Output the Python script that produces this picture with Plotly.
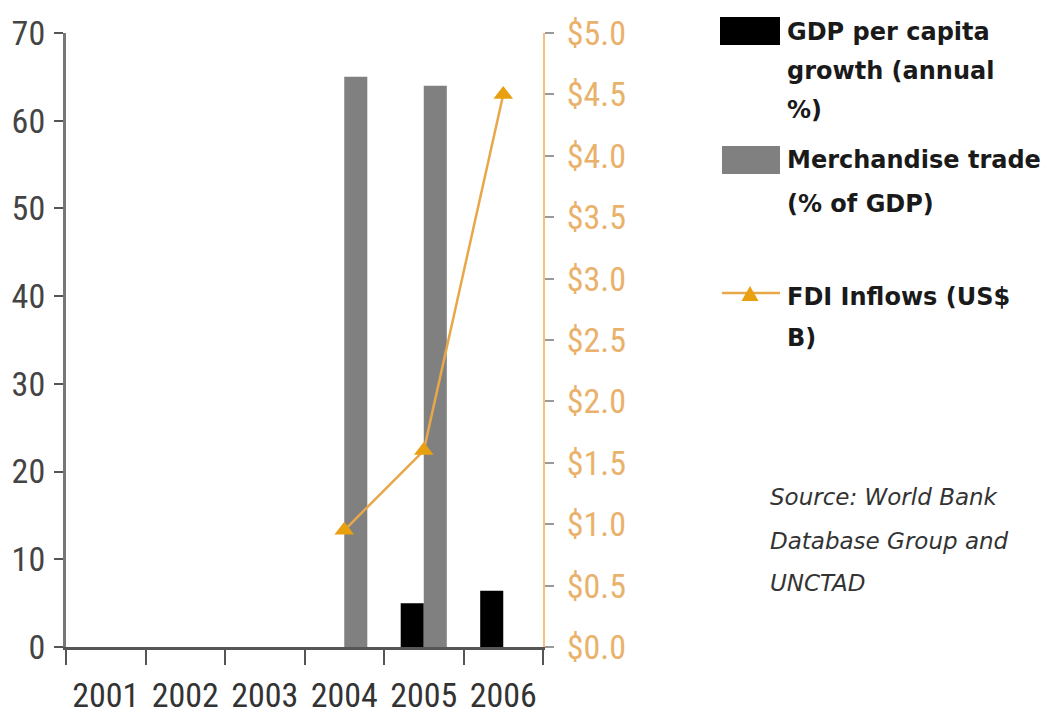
import plotly.graph_objects as go

years = ["2001", "2002", "2003", "2004", "2005", "2006"]
gdp_growth = [None, None, None, None, 5.0, 6.4]
merch_trade = [None, None, None, 65.0, 64.0, None]
fdi_inflows = [None, None, None, 0.95, 1.6, 4.5]

names = ["GDP per capita<br>growth (annual<br>%)",
         "Merchandise trade<br>(% of GDP)",
         "FDI Inflows (US$<br>B)"]
source_text = "Source: World Bank<br>Database Group and<br>UNCTAD"

BLACK = "#000000"
GRAY = "#808080"
ORANGE = "#E8A84A"
MARKER = "#E8A010"

W, H = 1050, 717
L, R, T, B = 66, 507, 33, 70
PW, PH = W - L - R, H - T - B

def px(x):
    return (x - L) / PW

def py(y):
    return (H - B - y) / PH

narrow = "Liberation Sans Narrow, Arial Narrow, Roboto Condensed, Liberation Sans, sans-serif"

fig = go.Figure()
fig.add_trace(go.Bar(x=years, y=gdp_growth, name=names[0], marker_color=BLACK,
                     marker_line_width=0))
fig.add_trace(go.Bar(x=years, y=merch_trade, name=names[1], marker_color=GRAY,
                     marker_line_width=0))
fig.add_trace(go.Scatter(x=years, y=fdi_inflows, name=names[2], yaxis="y2",
                         mode="lines+markers",
                         line=dict(color=ORANGE, width=2.5),
                         marker=dict(symbol="triangle-up", size=17, color=MARKER)))

fig.update_layout(
    width=W, height=H,
    margin=dict(l=L, r=R, t=T, b=B, autoexpand=False),
    paper_bgcolor="white", plot_bgcolor="white",
    showlegend=False,
    barmode="group", bargap=0.42, bargroupgap=0,
    xaxis=dict(type="category", tickson="boundaries", ticks="outside", ticklen=15,
               tickwidth=2, tickcolor="#555", showline=True, linecolor="#555",
               linewidth=3, showgrid=False, zeroline=False, automargin=False,
               tickfont=dict(family=narrow, size=34, color="#333"),
               ticklabelstandoff=16),
    yaxis=dict(range=[0, 70], dtick=10, ticks="outside", ticklen=9, tickwidth=2,
               tickcolor="#555", showline=True, linecolor="#777", linewidth=3,
               showgrid=False, zeroline=False, automargin=False,
               tickfont=dict(family=narrow, size=34, color="#444"),
               ticklabelstandoff=2),
    yaxis2=dict(range=[0, 5], dtick=0.5, overlaying="y", side="right",
                tickprefix="$", tickformat=".1f", ticks="outside", ticklen=9,
                tickwidth=2, tickcolor="#999", showline=True, linecolor="#F2C27A",
                linewidth=2, showgrid=False, zeroline=False, automargin=False,
                tickfont=dict(family=narrow, size=34, color="#E9B26C"),
                ticklabelstandoff=6),
)

legend_font = dict(family="DejaVu Sans, Verdana, sans-serif", size=24, color="#1a1a1a")
text_x = 785
line_ys = [[32, 71, 110], [160, 204], [297, 338]]
for name, ys in zip(names, line_ys):
    for line, yy in zip(name.split("<br>"), ys):
        fig.add_annotation(xref="paper", yref="paper", x=px(text_x), y=py(yy),
                           xanchor="left", yanchor="middle", showarrow=False,
                           text="<b>" + line + "</b>", font=legend_font)

fig.add_shape(type="rect", xref="paper", yref="paper", x0=px(720), x1=px(780),
              y0=py(45), y1=py(17), fillcolor=BLACK, line_width=0)
fig.add_shape(type="rect", xref="paper", yref="paper", x0=px(722), x1=px(780),
              y0=py(174), y1=py(146), fillcolor=GRAY, line_width=0)
fig.add_shape(type="line", xref="paper", yref="paper", x0=px(722), x1=px(780),
              y0=py(293), y1=py(293), line=dict(color=ORANGE, width=2.5))
tri = "M {:.5f} {:.5f} L {:.5f} {:.5f} L {:.5f} {:.5f} Z".format(
    px(741.5), py(301), px(758.5), py(301), px(750), py(286))
fig.add_shape(type="path", xref="paper", yref="paper", path=tri,
              fillcolor=MARKER, line_width=0)

src_font = dict(family="DejaVu Sans, Verdana, sans-serif", size=23, color="#333")
for line, yy in zip(source_text.split("<br>"), [497, 541, 583]):
    fig.add_annotation(xref="paper", yref="paper", x=px(768), y=py(yy),
                       xanchor="left", yanchor="middle", showarrow=False,
                       text="<i>" + line + "</i>", font=src_font)

fig.write_html("out.html", config={"displayModeBar": False},
               post_script="document.body.style.margin='0px';")
